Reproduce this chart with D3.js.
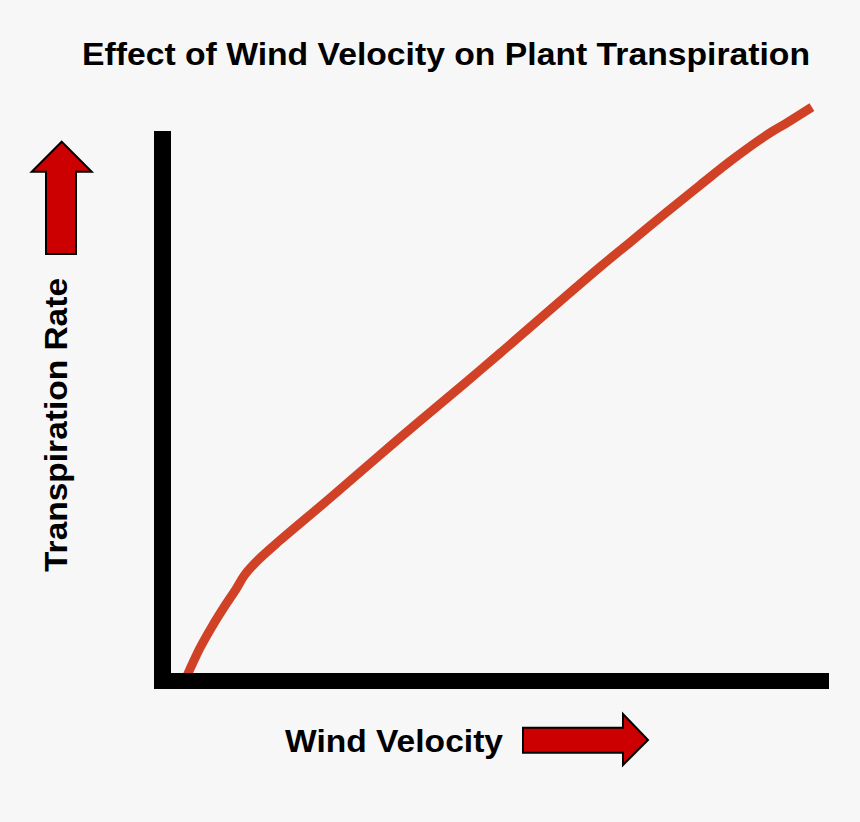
<!DOCTYPE html>
<html>
<head>
<meta charset="utf-8">
<script src="https://cdn.jsdelivr.net/npm/d3@7"></script>
<style>
  html, body { margin: 0; padding: 0; background: #f7f7f7; }
  svg { display: block; font-family: "Liberation Sans", Arial, sans-serif; }
</style>
</head>
<body>
<div id="chart"></div>
<script>
// curve (arbitrary units, 0-100 on each axis)
const velocity = [2.4, 4.4, 6.2, 8.2, 9.9, 11.2, 13.2, 16.6, 24.2, 34.8, 44.7, 50.0, 65.2, 70.2, 75.4, 80.4, 85.4, 90.6, 93.6, 97.4];
const rate     = [-0.6, 4.6, 8.5, 12.4, 15.5, 18.1, 20.8, 24.5, 32.3, 43.4, 53.5, 59.0, 74.9, 79.9, 85.1, 90.0, 94.8, 99.3, 101.5, 104.4];

const title = 'Effect of Wind Velocity on Plant Transpiration';
const xLabel = 'Wind Velocity';
const yLabel = 'Transpiration Rate';

const W = 860, H = 822;
const axisW = 16;

const x = d3.scaleLinear().domain([0, 100]).range([171, 829]);
const y = d3.scaleLinear().domain([0, 100]).range([673, 131]);

const svg = d3.select('#chart')
  .append('svg')
  .attr('width', W)
  .attr('height', H);

svg.append('rect')
  .attr('width', W)
  .attr('height', H)
  .attr('fill', '#f7f7f7');

// the curve goes under the axes
const pts = velocity.map((v, i) => [v, rate[i]]);
const line = d3.line()
  .x(d => x(d[0]))
  .y(d => y(d[1]))
  .curve(d3.curveCatmullRom.alpha(0.5));

svg.append('path')
  .datum(pts)
  .attr('d', line)
  .attr('fill', 'none')
  .attr('stroke', '#d04126')
  .attr('stroke-width', 9);

// thick black axes
svg.append('rect')
  .attr('x', x.range()[0] - axisW - 1)
  .attr('y', y.range()[1])
  .attr('width', axisW + 1)
  .attr('height', y.range()[0] - y.range()[1] + axisW)
  .attr('fill', '#000');

svg.append('rect')
  .attr('x', x.range()[0] - axisW - 1)
  .attr('y', y.range()[0])
  .attr('width', x.range()[1] - x.range()[0] + axisW + 1)
  .attr('height', axisW)
  .attr('fill', '#000');

// text
svg.append('text')
  .attr('x', 446)
  .attr('y', 65)
  .attr('text-anchor', 'middle')
  .attr('font-size', 32)
  .attr('font-weight', 'bold')
  .attr('textLength', 728)
  .attr('lengthAdjust', 'spacingAndGlyphs')
  .text(title);

svg.append('text')
  .attr('x', 285)
  .attr('y', 752)
  .attr('font-size', 30.5)
  .attr('font-weight', 'bold')
  .attr('textLength', 218)
  .attr('lengthAdjust', 'spacingAndGlyphs')
  .text(xLabel);

svg.append('text')
  .attr('transform', 'translate(67,572) rotate(-90)')
  .attr('font-size', 32)
  .attr('font-weight', 'bold')
  .attr('textLength', 294)
  .attr('lengthAdjust', 'spacingAndGlyphs')
  .text(yLabel);

// red block arrows beside the labels
const upArrow = [[61.7, 141.7], [91.7, 171.7], [76, 171.7], [76, 254], [46, 254], [46, 171.7], [31.7, 171.7]];
const rightArrow = [[523, 727.7], [623, 727.7], [623, 714], [648, 740], [623, 765], [623, 752.7], [523, 752.7]];

[upArrow, rightArrow].forEach(p => {
  svg.append('path')
    .attr('d', 'M' + p.map(d => d.join(',')).join('L') + 'Z')
    .attr('fill', '#cc0000')
    .attr('stroke', '#000')
    .attr('stroke-width', 2)
    .attr('stroke-linejoin', 'miter');
});
</script>
</body>
</html>
